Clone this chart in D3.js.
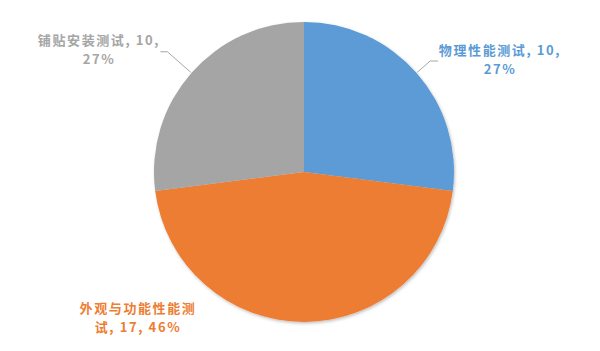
<!DOCTYPE html>
<html>
<head>
<meta charset="utf-8">
<script src="https://cdn.jsdelivr.net/npm/d3@7"></script>
<style>
  body { margin: 0; background: #fff; }
  svg { display: block; }
  text { font-family: "Noto Sans CJK SC", "Noto Sans", sans-serif; font-weight: bold; font-size: 13px; letter-spacing: 1.6px; }
</style>
</head>
<body>
<svg id="chart" width="600" height="351"></svg>
<script>
// data
var categories = ["物理性能测试", "外观与功能性能测试", "铺贴安装测试"];
var values = [10, 17, 10];
var colors = ["#5B9BD5", "#ED7D31", "#A5A5A5"];
// label text lines as Excel wraps them
var labelLines = [
  ["物理性能测试, 10,", "27%"],
  ["外观与功能性能测", "试, 17, 46%"],
  ["铺贴安装测试, 10,", "27%"]
];

var width = 600, height = 351;
var cx = 304, cy = 172, radius = 150;

var svg = d3.select("#chart");
var defs = svg.append("defs");
var f = defs.append("filter").attr("id", "shadow").attr("x", "-10%").attr("y", "-10%").attr("width", "120%").attr("height", "120%");
f.append("feDropShadow").attr("dx", 1).attr("dy", 1.5).attr("stdDeviation", 1.5).attr("flood-color", "#000").attr("flood-opacity", 0.25);

var total = d3.sum(values);
var pie = d3.pie().sort(null).value(function(d) { return d; });
var arcs = pie(values);
var arc = d3.arc().innerRadius(0).outerRadius(radius);

var g = svg.append("g").attr("transform", "translate(" + cx + "," + cy + ")");
g.append("g").attr("filter", "url(#shadow)")
  .selectAll("path").data(arcs).enter().append("path")
  .attr("d", arc)
  .attr("fill", function(d, i) { return colors[i]; });

// label placement (relative to pie center)
var labelLayout = [
  { x: 196, y: -117, leader: true, elbowR: 168, tail: 8 },
  { x: -166, y: 141, leader: false },
  { x: -205, y: -127, leader: true, elbowR: 182, tail: -7 }
];
var lineGap = 19;

function polar(a, r) { return [Math.sin(a) * r, -Math.cos(a) * r]; }

arcs.forEach(function(d, i) {
  var L = labelLayout[i];
  var mid = (d.startAngle + d.endAngle) / 2;
  if (L.leader) {
    var p0 = polar(mid, radius + 1);
    var p1 = polar(mid, L.elbowR);
    var p2 = [p1[0] + L.tail, p1[1]];
    g.append("polyline")
      .attr("points", [p0, p1, p2].map(function(p) { return p.join(","); }).join(" "))
      .attr("fill", "none")
      .attr("stroke", "#A6A6A6")
      .attr("stroke-width", 1);
  }
  labelLines[i].forEach(function(line, j) {
    g.append("text")
      .attr("text-anchor", "middle")
      .attr("fill", colors[i])
      .attr("x", L.x)
      .attr("y", L.y + j * lineGap)
      .text(line);
  });
});
</script>
</body>
</html>
